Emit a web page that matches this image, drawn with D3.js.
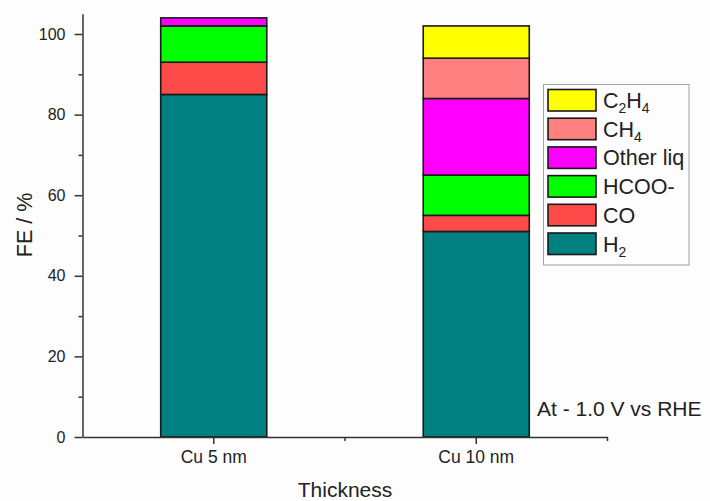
<!DOCTYPE html>
<html>
<head>
<meta charset="utf-8">
<script src="https://cdn.jsdelivr.net/npm/d3@7/dist/d3.min.js"></script>
<style>
  html, body { margin: 0; padding: 0; background: #fdfdfd; }
  svg { display: block; font-family: "Liberation Sans", Arial, sans-serif; }
</style>
</head>
<body>
<svg id="chart" width="710" height="501"></svg>
<script>
// Faradaic efficiency of products at -1.0 V vs RHE for two Cu film thicknesses
const categories = ["Cu 5 nm", "Cu 10 nm"];
const h2 = [85, 51];
const co = [8, 4];
const hcoo = [9, 10];
const otherLiq = [2, 19];
const ch4 = [0, 10];
const c2h4 = [0, 8];

const seriesKeys = ["H2", "CO", "HCOO", "Other", "CH4", "C2H4"];
const seriesValues = { H2: h2, CO: co, HCOO: hcoo, Other: otherLiq, CH4: ch4, C2H4: c2h4 };
const colors = { H2: "#008080", CO: "#ff4a4a", HCOO: "#00ff00", Other: "#ff00ff", CH4: "#ff8080", C2H4: "#ffff00" };
// legend labels: [main, subscript, main, subscript]
const legendLabels = {
  C2H4: [["C", false], ["2", true], ["H", false], ["4", true]],
  CH4: [["CH", false], ["4", true]],
  Other: [["Other liq", false]],
  HCOO: [["HCOO-", false]],
  CO: [["CO", false]],
  H2: [["H", false], ["2", true]]
};
const yTickValues = [0, 20, 40, 60, 80, 100];
const yMinorValues = [10, 30, 50, 70, 90];

const svg = d3.select("#chart");
const ink = "#222";

const x = d3.scaleBand().domain(categories).range([82.5, 607.5])
  .paddingInner(0.596).paddingOuter(0.298);
const y = d3.scaleLinear().domain([0, 105]).range([437, 437 - 105 * 4.03]);

const rows = categories.map((c, i) => {
  const r = { cat: c };
  seriesKeys.forEach(k => r[k] = seriesValues[k][i]);
  return r;
});
const stacked = d3.stack().keys(seriesKeys)(rows);

// bars
const g = svg.append("g");
stacked.forEach(layer => {
  g.selectAll(null)
    .data(layer.filter(d => d[1] - d[0] > 0))
    .enter().append("rect")
    .attr("x", d => x(d.data.cat))
    .attr("width", x.bandwidth())
    .attr("y", d => y(d[1]))
    .attr("height", d => y(d[0]) - y(d[1]))
    .attr("fill", colors[layer.key])
    .attr("stroke", "#1a1a1a")
    .attr("stroke-width", 1.6);
});

// y axis
const yAxis = svg.append("g").attr("transform", "translate(82.5,0)");
yAxis.call(d3.axisLeft(y).tickValues(yTickValues).tickSize(8).tickSizeOuter(0).tickPadding(9));
yAxis.append("g").call(d3.axisLeft(y).tickValues(yMinorValues).tickSize(4).tickFormat(""))
  .select(".domain").remove();
yAxis.selectAll(".domain, line").attr("stroke", "#333").attr("stroke-width", 1.5);
yAxis.selectAll("text").attr("font-size", 16).attr("fill", ink)
  .attr("font-family", "Liberation Sans, Arial, sans-serif");

// x axis
const xAxis = svg.append("g").attr("transform", "translate(0,437)");
xAxis.call(d3.axisBottom(x).tickSize(7).tickSizeOuter(0).tickPadding(7));
const step = x.step();
const minorX = [x(categories[0]) + x.bandwidth() / 2 + step / 2,
                x(categories[1]) + x.bandwidth() / 2 + step / 2];
xAxis.selectAll(".minor").data(minorX).enter().append("line")
  .attr("x1", d => d).attr("x2", d => d).attr("y1", 0).attr("y2", 4);
xAxis.selectAll(".domain, line").attr("stroke", "#333").attr("stroke-width", 1.5);
xAxis.selectAll("text").attr("font-size", 17.5).attr("fill", ink)
  .attr("font-family", "Liberation Sans, Arial, sans-serif");

// axis titles
svg.append("text")
  .attr("transform", "translate(31.5,225) rotate(-90)")
  .attr("text-anchor", "middle")
  .attr("font-size", 21.5).attr("fill", ink)
  .text("FE / %");
svg.append("text")
  .attr("x", 345).attr("y", 497)
  .attr("text-anchor", "middle")
  .attr("font-size", 21).attr("fill", ink)
  .text("Thickness");

// potential annotation
svg.append("text")
  .attr("x", 537).attr("y", 416)
  .attr("font-size", 21).attr("fill", ink)
  .text("At - 1.0 V vs RHE");

// legend
const legend = svg.append("g");
legend.append("rect")
  .attr("x", 543.5).attr("y", 84.5).attr("width", 145.5).attr("height", 180.5)
  .attr("fill", "#fdfdfd").attr("stroke", "#a0a0a0").attr("stroke-width", 1);
const legendOrder = seriesKeys.slice().reverse();
legendOrder.forEach((k, i) => {
  const top = 89.5 + i * 28.7;
  legend.append("rect")
    .attr("x", 548).attr("y", top).attr("width", 48).attr("height", 21.5)
    .attr("fill", colors[k]).attr("stroke", "#1a1a1a").attr("stroke-width", 1.6);
  const t = legend.append("text")
    .attr("x", 603).attr("y", top + 18.5)
    .attr("font-size", 21.5).attr("fill", ink);
  legendLabels[k].forEach(([s, sub]) => {
    const ts = t.append("tspan").text(s);
    if (sub) ts.attr("font-size", 14).attr("dy", 5);
    else ts.attr("dy", t.selectAll("tspan").size() > 1 ? -5 : 0);
  });
});
</script>
</body>
</html>
